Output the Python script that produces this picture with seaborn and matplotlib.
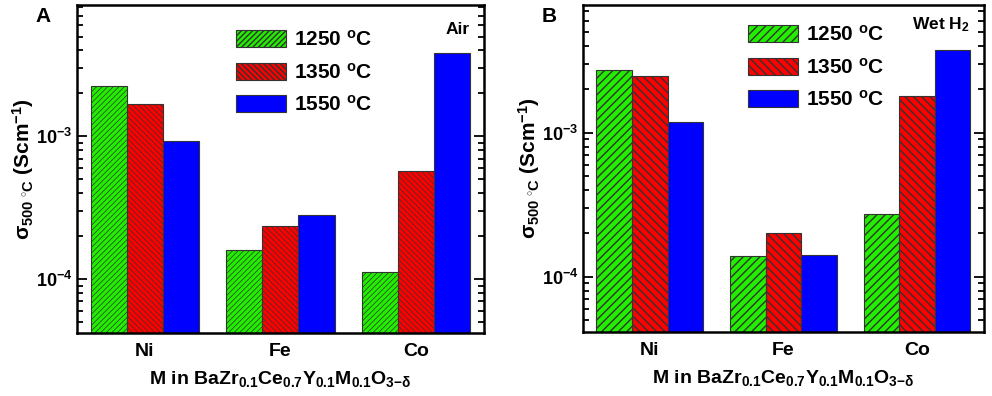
import pandas as pd
import numpy as np
import seaborn as sns
import matplotlib.pyplot as plt
from matplotlib.ticker import LogLocator, NullFormatter, FixedLocator

# Data
metals = ['Ni', 'Fe', 'Co']
temps = ['1250 $^{\\mathrm{o}}$C', '1350 $^{\\mathrm{o}}$C', '1550 $^{\\mathrm{o}}$C']
colors = ['#22ee00', '#ff0000', '#0000ff']

air_1250 = [2.25e-3, 1.59e-4, 1.12e-4]
air_1350 = [1.69e-3, 2.35e-4, 5.75e-4]
air_1550 = [9.3e-4, 2.82e-4, 3.83e-3]

h2_1250 = [2.71e-3, 1.39e-4, 2.75e-4]
h2_1350 = [2.48e-3, 2.0e-4, 1.80e-3]
h2_1550 = [1.19e-3, 1.42e-4, 3.75e-3]


def make_df(a, b, c):
    rows = []
    for t, vals in zip(temps, [a, b, c]):
        for m, v in zip(metals, vals):
            rows.append({'M': m, 'T': t, 'sigma': v})
    return pd.DataFrame(rows)


df_air = make_df(air_1250, air_1350, air_1550)
df_h2 = make_df(h2_1250, h2_1350, h2_1550)

sns.set_style('ticks')
plt.rcParams['font.family'] = ['Liberation Sans', 'DejaVu Sans']
plt.rcParams['font.weight'] = 'bold'
plt.rcParams['axes.labelweight'] = 'bold'
plt.rcParams['mathtext.fontset'] = 'custom'
plt.rcParams['mathtext.rm'] = 'Liberation Sans:bold'
plt.rcParams['mathtext.it'] = 'Liberation Sans:bold'
plt.rcParams['mathtext.bf'] = 'Liberation Sans:bold'
plt.rcParams['mathtext.sf'] = 'Liberation Sans:bold'
for k in ['text.color', 'axes.labelcolor', 'xtick.color', 'ytick.color', 'axes.edgecolor']:
    plt.rcParams[k] = 'black'

fig = plt.figure(figsize=(9.92, 3.96), dpi=100)
ax1 = fig.add_axes([0.0776, 0.159, 0.410, 0.828])
ax2 = fig.add_axes([0.5877, 0.162, 0.404, 0.825])

panels = [
    (ax1, df_air, (4.2e-5, 8.3e-3), '//////', 0.5, 'A', 'Air', 0.37, 0.95, 0.925),
    (ax2, df_h2, (4.15e-5, 7.7e-3), '////', 1.0, 'B', 'Wet H$_2$', 0.39, 0.965, 0.94),
]

for ax, df, ylim, hatch_base, hlw, letter, atm, legx, legy, atmy in panels:
    sns.barplot(data=df, x='M', y='sigma', hue='T', palette=colors,
                width=0.8, saturation=1, edgecolor='#333333', linewidth=0.8,
                legend=False, ax=ax)
    ax.set_yscale('log')
    ax.set_ylim(*ylim)
    ax.set_xlim(-0.5, 2.5)

    hatches = [hatch_base, hatch_base.replace('/', '\\'), '']
    for cont, h in zip(ax.containers, hatches):
        for p in cont:
            p.set_hatch(h)
            if hasattr(p, 'set_hatch_linewidth'):
                p.set_hatch_linewidth(hlw)

    ax.yaxis.set_major_locator(FixedLocator([1e-4, 1e-3]))
    ax.set_yticklabels(['$10^{-4}$', '$10^{-3}$'], fontsize=13)
    ax.yaxis.set_minor_locator(LogLocator(base=10, subs=np.arange(2, 10)))
    ax.yaxis.set_minor_formatter(NullFormatter())
    ax.tick_params(axis='y', which='both', direction='in', left=True, right=True, width=1.3)
    ax.tick_params(axis='y', which='major', length=7)
    ax.tick_params(axis='y', which='minor', length=4)
    ax.tick_params(axis='x', length=0, labelsize=14, pad=7)
    for lab in ax.get_xticklabels():
        lab.set_fontweight('bold')

    for s in ax.spines.values():
        s.set_linewidth(1.8)
        s.set_visible(True)

    ax.set_ylabel('$\\sigma_{500\\ ^{\\circ}\\mathrm{C}}$ (Scm$^{-1}$)', fontsize=15, labelpad=0)
    ax.set_xlabel('M in BaZr$_{0.1}$Ce$_{0.7}$Y$_{0.1}$M$_{0.1}$O$_{3\\mathrm{-}\\delta}$',
                  fontsize=14, labelpad=7)

    ax.legend(ax.containers, temps, loc='upper left', bbox_to_anchor=(legx, legy),
              frameon=False, fontsize=15, handlelength=2.4, handleheight=0.9,
              labelspacing=0.6, handletextpad=0.4, borderaxespad=0)

    ax.text(-0.065, 0.995, letter, transform=ax.transAxes, fontsize=15,
            fontweight='bold', ha='right', va='top')
    ax.text(0.965, atmy, atm, transform=ax.transAxes, fontsize=12.5,
            fontweight='bold', ha='right', va='center')

fig.savefig('out.png', dpi=100)
